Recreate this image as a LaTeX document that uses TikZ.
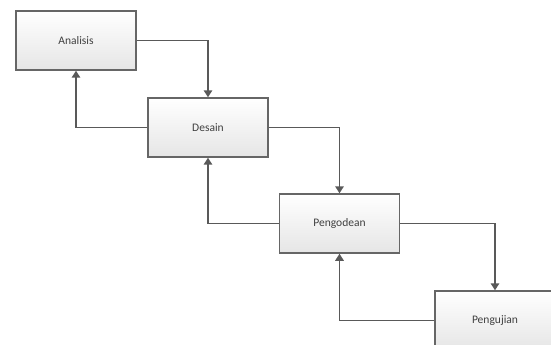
\documentclass[tikz,border=0pt]{standalone}
\usepackage{fontspec}
\setmainfont{Carlito}
\usetikzlibrary{arrows.meta,shadows}

\def\boxw{3cm}
\def\boxh{1.475cm}

\tikzset{
    phase/.style={draw=black!60, line width=1pt, top color=white, bottom color=black!10,
        minimum width=\boxw, minimum height=\boxh, inner sep=0pt,
        drop shadow={opacity=0.15, shadow xshift=0.5pt, shadow yshift=-0.5pt},
        font=\fontsize{8.2}{9}\selectfont, text=black!75},
    flow/.style={draw=black!65, line width=1.2pt, -{Triangle[length=5pt,width=6pt]}}
}

\begin{document}
\begin{tikzpicture}[x=0.025cm,y=-0.025cm]
        \useasboundingbox (0,0) rectangle (551,344);
        \clip (0,0) rectangle (551,344);
        \node[phase] (analisis) at (76,40.5) {Analisis};
        \node[phase] (desain) at (208,127.5) {Desain};
        \node[phase] (pengodean) at (339.5,223.5) {Pengodean};
        \node[phase] (pengujian) at (495,320.5) {Pengujian};
        \draw[flow] (analisis.east) -| (desain.north);
        \draw[flow] (desain.west) -| (analisis.south);
        \draw[flow] (desain.east) -| (pengodean.north);
        \draw[flow] (pengodean.west) -| (desain.south);
        \draw[flow] (pengodean.east) -| (pengujian.north);
        \draw[flow] (pengujian.west) -| (pengodean.south);
    \end{tikzpicture}
\end{document}
